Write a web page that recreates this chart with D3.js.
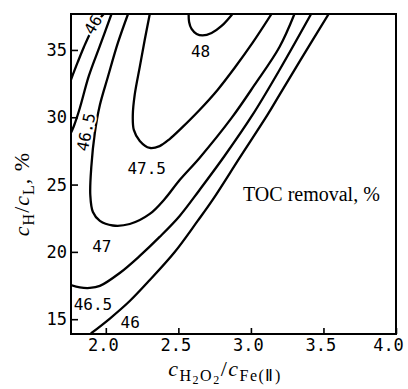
<!DOCTYPE html>
<html>
<head>
<meta charset="utf-8">
<script src="https://cdn.jsdelivr.net/npm/d3@7"></script>
<style>
body { margin: 0; background: #fff; }
</style>
</head>
<body>
<svg id="chart" width="408" height="389"></svg>
<script>
// iso-lines of TOC removal (%) as [cH2O2/cFe(II), cH/cL %]
var line48 = [[2.571,37.67],[2.574,37.08],[2.591,36.56],[2.626,36.19],[2.667,36.08],[2.729,36.26],[2.798,36.78],[2.873,37.67]]
var line475 = [[2.303,37.67],[2.268,35.74],[2.234,33.74],[2.199,31.66],[2.186,30.17],[2.193,29.06],[2.234,28.24],[2.303,27.72],[2.371,27.86],[2.440,28.38],[2.523,29.21],[2.646,30.54],[2.770,32.03],[2.887,33.66],[3.011,35.52],[3.142,37.67]]
var line47 = [[2.153,37.67],[2.083,35.52],[2.014,32.99],[1.959,30.91],[1.924,28.83],[1.900,26.31],[1.893,24.23],[1.911,22.96],[1.959,22.30],[2.048,21.96],[2.165,22.07],[2.303,22.82],[2.406,23.93],[2.509,25.34],[2.646,26.98],[2.867,29.95],[3.025,32.40],[3.197,35.22],[3.300,37.67]]
var line465a = [[2.039,37.67],[1.959,35.30],[1.883,33.07],[1.821,30.69],[1.780,29.35],[1.759,28.83]]
var line465b = [[1.759,17.54],[1.821,17.36],[1.890,17.32],[1.959,17.47],[2.096,18.43],[2.234,19.70],[2.371,21.11],[2.509,22.67],[2.646,24.60],[2.818,27.12],[3.011,30.17],[3.197,33.51],[3.415,37.67]]
var line46a = [[1.759,32.77],[1.807,34.11],[1.849,35.22],[1.890,36.19],[1.938,37.08],[1.986,37.67]]
var line46b = [[1.897,13.94],[2.028,15.05],[2.165,16.35],[2.303,17.91],[2.475,19.99],[2.633,22.30],[2.736,23.86],[2.922,26.98],[3.114,30.17],[3.197,31.66],[3.334,34.11],[3.536,37.67]]

var labelText = ["46", "48", "46.5", "47.5", "47", "46.5", "46"]
var labelX = [1.911, 2.653, 1.862, 2.282, 1.972, 1.911, 2.168]
var labelY = [36.89, 34.89, 28.90, 26.23, 20.44, 16.13, 14.79]

var xTicks = [2.0, 2.5, 3.0, 3.5, 4.0]
var yTicks = [15, 20, 25, 30, 35]

var svg = d3.select("#chart")
var plotL = 71, plotR = 396, plotT = 14, plotB = 334
var numFont = "DejaVu Sans Mono"
var serif = "Liberation Serif"

var x = d3.scaleLinear().domain([1.76, 4.0]).range([plotL, plotR])
var y = d3.scaleLinear().domain([13.9, 37.67]).range([plotB, plotT])

svg.append("clipPath").attr("id", "plotClip")
	.append("rect")
	.attr("x", plotL).attr("y", plotT)
	.attr("width", plotR - plotL).attr("height", plotB - plotT)

var line = d3.line()
	.x(function (d) { return x(d[0]) })
	.y(function (d) { return y(d[1]) })
	.curve(d3.curveCatmullRom.alpha(0.5))

var plot = svg.append("g").attr("clip-path", "url(#plotClip)")
plot.selectAll("path.iso")
	.data([line48, line475, line47, line465a, line465b, line46a, line46b])
	.enter().append("path")
	.attr("class", "iso")
	.attr("d", line)
	.style("fill", "none")
	.style("stroke", "#000")
	.style("stroke-width", 2.3)
	.style("stroke-linejoin", "round")

// label angles follow the lines where they sit on a steep branch
var labelAngle = [-60, 0, -78, 0, 0, 0, 0]
svg.selectAll("text.iso-label")
	.data(labelText)
	.enter().append("text")
	.attr("class", "iso-label")
	.attr("transform", function (d, i) {
		return "translate(" + x(labelX[i]) + "," + y(labelY[i]) + ") rotate(" + labelAngle[i] + ")"
	})
	.attr("text-anchor", "middle")
	.attr("dy", "0.36em")
	.style("font-family", numFont)
	.style("font-size", "16px")
	.style("fill", "#000")
	.style("stroke", "#fff")
	.style("stroke-width", 4)
	.style("paint-order", "stroke")
	.text(function (d) { return d })

svg.append("text")
	.attr("x", 243).attr("y", 201)
	.style("font-family", serif)
	.style("font-size", "20px")
	.text("TOC removal, %")

// axes, ticks pointing inward
var xAxis = d3.axisBottom(x).tickValues(xTicks).tickSize(-6).tickPadding(5)
	.tickFormat(d3.format(".1f"))
var gx = svg.append("g").attr("transform", "translate(0," + plotB + ")").call(xAxis)

var yAxis = d3.axisLeft(y).tickValues(yTicks).tickSize(-7).tickPadding(4)
var gy = svg.append("g").attr("transform", "translate(" + plotL + ",0)").call(yAxis)

gx.select(".domain").remove()
gy.select(".domain").remove()
svg.selectAll(".tick line").style("stroke", "#000").style("stroke-width", 1.6)
svg.selectAll(".tick text")
	.style("font-family", numFont)
	.style("font-size", "17px")
	.style("fill", "#000")
gx.selectAll(".tick text").attr("dx", function (d, i) { return i == xTicks.length - 1 ? -8 : -3 })

svg.append("rect")
	.attr("x", plotL).attr("y", plotT)
	.attr("width", plotR - plotL).attr("height", plotB - plotT)
	.style("fill", "none")
	.style("stroke", "#000")
	.style("stroke-width", 2)

// axis titles with subscripts
var xt = svg.append("text")
	.attr("x", 225).attr("y", 376)
	.attr("text-anchor", "middle")
	.style("font-family", serif)
	.style("font-size", "22px")
	.style("letter-spacing", "1.5px")
xt.append("tspan").style("font-style", "italic").text("c")
xt.append("tspan").attr("dy", 5).style("font-size", "16px").text("H")
xt.append("tspan").attr("dy", 3).style("font-size", "12px").text("2")
xt.append("tspan").attr("dy", -3).style("font-size", "16px").text("O")
xt.append("tspan").attr("dy", 3).style("font-size", "12px").text("2")
xt.append("tspan").attr("dy", -8).text("/")
xt.append("tspan").style("font-style", "italic").text("c")
xt.append("tspan").attr("dy", 5).style("font-size", "16px").text("Fe(\u2161)")

var yt = svg.append("text")
	.attr("transform", "translate(29,194) rotate(-90)")
	.attr("text-anchor", "middle")
	.style("font-family", serif)
	.style("font-size", "22px")
	.style("letter-spacing", "1px")
yt.append("tspan").style("font-style", "italic").text("c")
yt.append("tspan").attr("dy", 5).style("font-size", "16px").text("H")
yt.append("tspan").attr("dy", -5).text("/")
yt.append("tspan").style("font-style", "italic").text("c")
yt.append("tspan").attr("dy", 5).style("font-size", "16px").text("L")
yt.append("tspan").attr("dy", -5).text(", %")
</script>
</body>
</html>
